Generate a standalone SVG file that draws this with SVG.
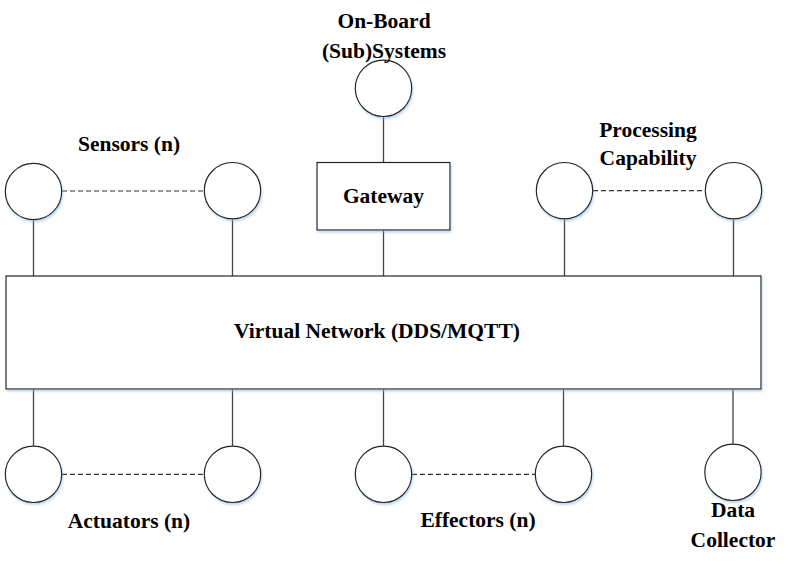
<svg xmlns="http://www.w3.org/2000/svg" width="801" height="565" viewBox="0 0 801 565">
<style>
.node{fill:#fff;stroke:#222;stroke-width:1.2}
.conn{stroke:#444;stroke-width:1.3;fill:none}
.dash{stroke:#333;stroke-width:1.2;stroke-dasharray:5,3;fill:none}
.lbl{font-family:'Liberation Serif','Times New Roman',Times,'DejaVu Serif',serif;font-weight:700;font-size:21.5px;fill:#000;text-anchor:middle}
</style>
<defs>
<filter id="sh" x="-20%" y="-20%" width="140%" height="140%">
<feDropShadow dx="1" dy="2" stdDeviation="1.2" flood-color="#8fb8e0" flood-opacity="0.55"/>
</filter>
</defs>
<rect width="801" height="565" fill="#fff"/>
<g id="connectors">
<line class="conn" x1="33.5" y1="220" x2="33.5" y2="276"/>
<line class="conn" x1="232.5" y1="219" x2="232.5" y2="276"/>
<line class="conn" x1="383.5" y1="116.5" x2="383.5" y2="162.5"/>
<line class="conn" x1="383.5" y1="230" x2="383.5" y2="276"/>
<line class="conn" x1="564.5" y1="219" x2="564.5" y2="276"/>
<line class="conn" x1="733.5" y1="219" x2="733.5" y2="276"/>
<line class="conn" x1="33.5" y1="389" x2="33.5" y2="446"/>
<line class="conn" x1="232.5" y1="389" x2="232.5" y2="446"/>
<line class="conn" x1="383.5" y1="389" x2="383.5" y2="446"/>
<line class="conn" x1="563.5" y1="389" x2="563.5" y2="446"/>
<line class="conn" x1="733" y1="389" x2="733" y2="444"/>
<line class="dash" x1="62" y1="191" x2="204" y2="191"/>
<line class="dash" x1="593" y1="190.7" x2="705" y2="190.7"/>
<line class="dash" x1="62" y1="474.3" x2="204" y2="474.3"/>
<line class="dash" x1="412" y1="474.3" x2="535" y2="474.3"/>
</g>
<g id="network">
<rect class="node" filter="url(#sh)" x="6" y="276" width="755" height="113"/>
<text class="lbl" x="377" y="338">Virtual Network (DDS/MQTT)</text>
</g>
<g id="gateway">
<rect class="node" filter="url(#sh)" x="317" y="162.5" width="133" height="67.5"/>
<text class="lbl" x="383.5" y="203">Gateway</text>
</g>
<g id="onboard">
<circle class="node" filter="url(#sh)" cx="383.5" cy="88.3" r="28.2"/>
<text class="lbl" x="384" y="28">On-Board</text>
<text class="lbl" x="384" y="58">(Sub)Systems</text>
</g>
<g id="sensors">
<circle class="node" filter="url(#sh)" cx="33.5" cy="191.5" r="28.2"/>
<circle class="node" filter="url(#sh)" cx="232.5" cy="190.7" r="28.2"/>
<text class="lbl" x="129" y="151">Sensors (n)</text>
</g>
<g id="processing">
<circle class="node" filter="url(#sh)" cx="564.5" cy="190.7" r="28.2"/>
<circle class="node" filter="url(#sh)" cx="733.5" cy="190.7" r="28.2"/>
<text class="lbl" x="648" y="137">Processing</text>
<text class="lbl" x="648" y="165">Capability</text>
</g>
<g id="actuators">
<circle class="node" filter="url(#sh)" cx="33.5" cy="474.3" r="28.2"/>
<circle class="node" filter="url(#sh)" cx="232.5" cy="474.3" r="28.2"/>
<text class="lbl" x="129" y="528">Actuators (n)</text>
</g>
<g id="effectors">
<circle class="node" filter="url(#sh)" cx="383.5" cy="474.3" r="28.2"/>
<circle class="node" filter="url(#sh)" cx="563.5" cy="474.3" r="28.2"/>
<text class="lbl" x="478" y="527">Effectors (n)</text>
</g>
<g id="datacollector">
<circle class="node" filter="url(#sh)" cx="733" cy="472.3" r="28.2"/>
<text class="lbl" x="733" y="517">Data</text>
<text class="lbl" x="733" y="547">Collector</text>
</g>
</svg>
